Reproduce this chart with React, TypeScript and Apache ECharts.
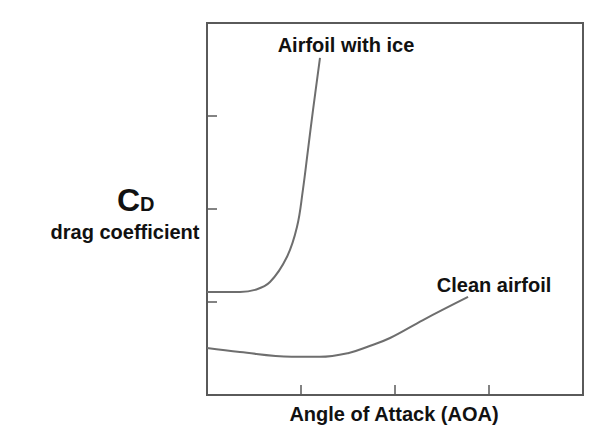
import React, { useEffect, useRef } from "react";
import * as echarts from "echarts";

// Angle of attack (arbitrary units) and drag coefficient for each airfoil
const iceAoa = [0, 0.35, 0.51, 0.67, 0.85, 0.957, 1.02, 1.074, 1.128, 1.202];
const iceCd = [1.108, 1.108, 1.13, 1.215, 1.484, 1.806, 2.204, 2.634, 3.065, 3.624];

const cleanAoa = [0, 0.35, 0.9, 1.2, 1.5, 1.73, 1.947, 2.298, 2.777];
const cleanCd = [0.505, 0.462, 0.412, 0.41, 0.45, 0.527, 0.613, 0.806, 1.054];

const seriesNames = ["Airfoil with ice", "Clean airfoil"];
const xTitle = "Angle of Attack (AOA)";
const yTitle = "drag coefficient";

const pairs = (xs: number[], ys: number[]) => xs.map((x, i) => [x, ys[i]]);

const FONT = "'Liberation Sans', Arial, sans-serif";
const INK = "#111";
const LINE = "#6e6e6e";
const FRAME = "#5a5a5a";

export default function App() {
  const ref = useRef<HTMLDivElement>(null);

  useEffect(() => {
    if (!ref.current) return;
    const chart = echarts.init(ref.current, null, { renderer: "svg" });

    const axisCommon = {
      type: "value" as const,
      min: 0,
      max: 4,
      interval: 1,
      axisLine: { show: true, lineStyle: { color: FRAME, width: 2 } },
      axisTick: { show: true, inside: true, length: 10, lineStyle: { color: FRAME, width: 1.5 } },
      axisLabel: { show: false },
      splitLine: { show: false },
    };

    const lineSeries = (name: string, data: number[][]) => ({
      name,
      type: "line" as const,
      data,
      smooth: 0.4,
      showSymbol: false,
      lineStyle: { color: LINE, width: 2 },
    });

    const txt = (x: number, y: number, text: string, size = 20, align = "center") => ({
      type: "text" as const,
      x,
      y,
      style: {
        text,
        font: `bold ${size}px ${FONT}`,
        fill: INK,
        align,
        verticalAlign: "middle",
      },
    });

    chart.setOption({
      animation: false,
      backgroundColor: "#fff",
      grid: {
        left: 207,
        right: 25,
        top: 23,
        bottom: 53,
        show: true,
        borderColor: FRAME,
        borderWidth: 2,
      },
      xAxis: { ...axisCommon },
      yAxis: { ...axisCommon },
      series: [
        lineSeries(seriesNames[0], pairs(iceAoa, iceCd)),
        lineSeries(seriesNames[1], pairs(cleanAoa, cleanCd)),
      ],
      graphic: [
        txt(346, 45, seriesNames[0]),
        txt(494, 285, seriesNames[1]),
        txt(394, 414, xTitle),
        txt(125, 232, yTitle),
        {
          type: "text",
          x: 117,
          y: 216,
          style: {
            text: "{c|C}{d|D}",
            font: `bold 20px ${FONT}`,
            fill: INK,
            align: "left",
            verticalAlign: "bottom",
            rich: {
              c: { font: `bold 32px ${FONT}`, fill: INK, verticalAlign: "bottom", lineHeight: 32 },
              d: { font: `bold 20px ${FONT}`, fill: INK, verticalAlign: "bottom", lineHeight: 32, padding: [0, 0, 2, 0] },
            },
          },
        },
      ],
    });

    return () => chart.dispose();
  }, []);

  return <div ref={ref} style={{ width: 608, height: 448, margin: -8 }} />;
}
